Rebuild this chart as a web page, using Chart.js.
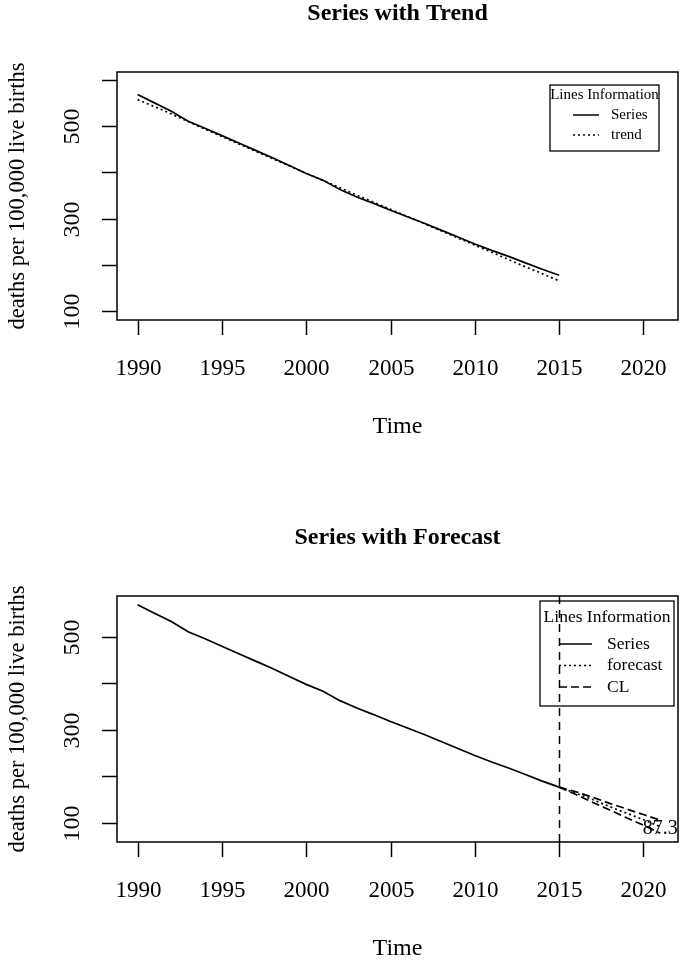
<!DOCTYPE html>
<html>
<head>
<meta charset="utf-8">
<script src="https://cdn.jsdelivr.net/npm/chart.js@4.4.1/dist/chart.umd.min.js"></script>
<style>
  html, body { margin: 0; padding: 0; background: #fff; }
  .wrap { position: relative; width: 683px; height: 481px; }
</style>
</head>
<body>
<div class="wrap"><canvas id="trendChart" width="683" height="481"></canvas></div>
<div class="wrap"><canvas id="forecastChart" width="683" height="481"></canvas></div>
<script>
// observed series, deaths per 100,000 live births
const years = [1990, 1991, 1992, 1993, 1994, 1995, 1996, 1997, 1998, 1999, 2000, 2001, 2002,
               2003, 2004, 2005, 2006, 2007, 2008, 2009, 2010, 2011, 2012, 2013, 2014, 2015];
const seriesValues = [569, 551, 533, 511, 496, 480, 464, 448, 432, 415, 398, 383, 363,
                      347, 333, 318, 304, 290, 275, 260, 245, 231, 218, 204, 190, 177];
const trendValues = [558, 543, 527, 510.5, 494, 478, 462, 446, 430, 414, 398, 382.5, 367,
                     351, 335.5, 320, 304.5, 289, 273.5, 258, 242.5, 227, 211, 195.5, 180.5, 165];

// forecast part
const fcYears = [2015, 2016, 2017, 2018, 2019, 2020, 2021];
const forecastValues = [177, 164, 150, 135, 121, 107, 92];
const upperCL = [177, 167, 155, 142, 130, 118, 106];
const lowerCL = [177, 161, 144, 128, 111, 95, 78];
const forecastLabel = '87.3';
const forecastLabelValue = 87.3;
const cutYear = 2015;

const xTicks = [1990, 1995, 2000, 2005, 2010, 2015, 2020];
const yTicks = [100, 200, 300, 400, 500, 600];
const yLabelTicks = [100, 300, 500];

const FONT = "'Liberation Serif', 'Times New Roman', serif";

function pts(xs, ys) {
  return xs.map((x, i) => ({ x: x, y: ys[i] }));
}

function lineSet(label, xs, ys, dash) {
  return {
    label: label,
    data: pts(xs, ys),
    borderColor: '#000',
    borderWidth: 1.7,
    borderDash: dash,
    pointRadius: 0,
    tension: 0,
    fill: false
  };
}

// draws the R-like frame, axes, titles and legend
const rStyle = {
  id: 'rStyle',
  afterDraw(chart, args, opts) {
    const ctx = chart.ctx;
    const a = chart.chartArea;
    const xs = chart.scales.x;
    const ys = chart.scales.y;
    ctx.save();
    ctx.strokeStyle = '#000';
    ctx.fillStyle = '#000';
    ctx.lineWidth = 1.5;
    ctx.setLineDash([]);
    ctx.strokeRect(a.left, a.top, a.right - a.left, a.bottom - a.top);

    // x axis
    ctx.font = '23px ' + FONT;
    ctx.textAlign = 'center';
    ctx.textBaseline = 'middle';
    xTicks.forEach(v => {
      const px = Math.round(xs.getPixelForValue(v)) + 0.5;
      ctx.beginPath();
      ctx.moveTo(px, a.bottom);
      ctx.lineTo(px, a.bottom + 15);
      ctx.stroke();
      ctx.fillText(String(v), px, a.bottom + 49);
    });
    ctx.font = '24px ' + FONT;
    ctx.fillText('Time', (a.left + a.right) / 2, a.bottom + 107);

    // y axis
    ctx.font = '24px ' + FONT;
    yTicks.forEach(v => {
      if (v < ys.min || v > ys.max) return;
      const py = Math.round(ys.getPixelForValue(v)) + 0.5;
      ctx.beginPath();
      ctx.moveTo(a.left, py);
      ctx.lineTo(a.left - 15, py);
      ctx.stroke();
      if (yLabelTicks.includes(v)) {
        ctx.save();
        ctx.translate(a.left - 44, py);
        ctx.rotate(-Math.PI / 2);
        ctx.fillText(String(v), 0, 0);
        ctx.restore();
      }
    });
    ctx.font = '22.5px ' + FONT;
    ctx.save();
    ctx.translate(18, (a.top + a.bottom) / 2);
    ctx.rotate(-Math.PI / 2);
    ctx.fillText('deaths per 100,000 live births', 0, 0);
    ctx.restore();

    // title
    ctx.font = 'bold 24px ' + FONT;
    ctx.fillText(opts.title, (a.left + a.right) / 2, a.top - 58);

    // legend
    const lg = opts.legend;
    ctx.lineWidth = 1.3;
    ctx.strokeRect(lg.x, lg.y, lg.w, lg.h);
    ctx.font = lg.size + 'px ' + FONT;
    ctx.fillText('Lines Information', lg.x + lg.w / 2, lg.y + lg.titleDy);
    ctx.textAlign = 'left';
    lg.items.forEach((it, i) => {
      const yy = lg.y + lg.rowDy + i * lg.rowGap;
      ctx.setLineDash(it.dash);
      ctx.lineWidth = 1.5;
      ctx.beginPath();
      ctx.moveTo(lg.lineX0, yy);
      ctx.lineTo(lg.lineX1, yy);
      ctx.stroke();
      ctx.setLineDash([]);
      ctx.fillText(it.text, lg.textX, yy);
    });

    // forecast extras
    if (opts.cut) {
      const vx = Math.round(xs.getPixelForValue(cutYear)) + 0.5;
      ctx.setLineDash([8, 6]);
      ctx.lineWidth = 1.5;
      ctx.beginPath();
      ctx.moveTo(vx, a.top);
      ctx.lineTo(vx, a.bottom);
      ctx.stroke();
      ctx.setLineDash([]);
      ctx.font = '20px ' + FONT;
      ctx.textAlign = 'center';
      ctx.fillText(forecastLabel, xs.getPixelForValue(2021), ys.getPixelForValue(forecastLabelValue));
    }
    ctx.restore();
  }
};

function makeChart(id, datasets, yMin, yMax, padding, opts) {
  return new Chart(document.getElementById(id), {
    type: 'line',
    data: { datasets: datasets },
    options: {
      responsive: false,
      animation: false,
      layout: { padding: padding },
      plugins: { legend: { display: false }, tooltip: { enabled: false }, rStyle: opts },
      scales: {
        x: { type: 'linear', min: 1988.78, max: 2022.05, display: false },
        y: { type: 'linear', min: yMin, max: yMax, display: false }
      }
    },
    plugins: [rStyle]
  });
}

makeChart('trendChart', [
  lineSet('Series', years, seriesValues, []),
  lineSet('trend', years, trendValues, [2, 3])
], 80, 618, { left: 117, top: 72, right: 5, bottom: 161 }, {
  title: 'Series with Trend',
  cut: false,
  legend: {
    x: 550, y: 85, w: 109, h: 66, size: 15, titleDy: 10, rowDy: 30, rowGap: 20,
    lineX0: 573, lineX1: 599, textX: 611,
    items: [{ text: 'Series', dash: [] }, { text: 'trend', dash: [2, 3] }]
  }
});

makeChart('forecastChart', [
  lineSet('Series', years, seriesValues, []),
  lineSet('forecast', fcYears, forecastValues, [2, 3]),
  lineSet('upper', fcYears, upperCL, [8, 4]),
  lineSet('lower', fcYears, lowerCL, [8, 4])
], 59, 588, { left: 117, top: 115, right: 5, bottom: 120 }, {
  title: 'Series with Forecast',
  cut: true,
  legend: {
    x: 540, y: 120, w: 134, h: 105, size: 17.5, titleDy: 16, rowDy: 43, rowGap: 21.5,
    lineX0: 559, lineX1: 592, textX: 607,
    items: [{ text: 'Series', dash: [] }, { text: 'forecast', dash: [2, 3] }, { text: 'CL', dash: [8, 4] }]
  }
});
</script>
</body>
</html>
